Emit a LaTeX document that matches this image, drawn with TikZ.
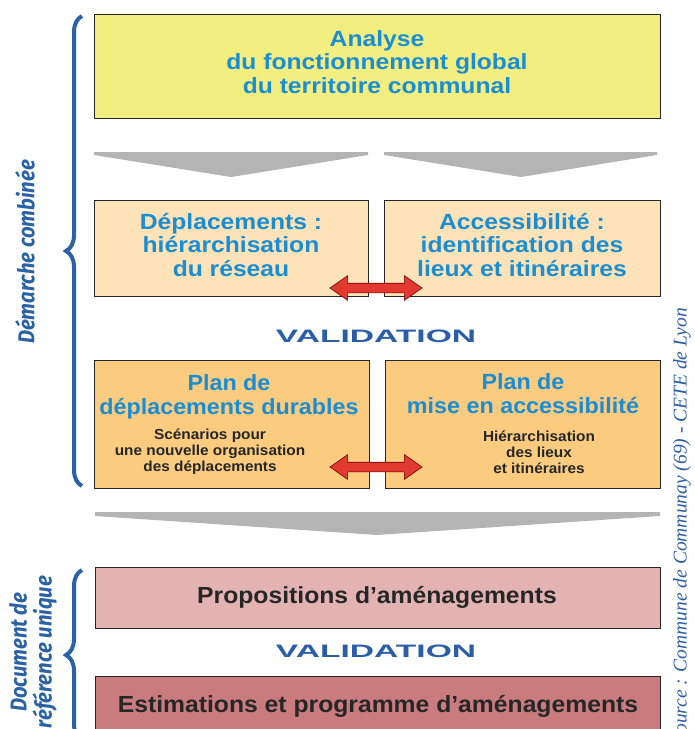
\documentclass[tikz,border=0pt]{standalone}
\usepackage{fontspec}
\setmainfont{Liberation Sans}
\newfontfamily\arialb{Liberation Sans}[FakeStretch=1.06]
\newfontfamily\arialw{Liberation Sans}[FakeStretch=1.12]
\newfontfamily\firacond{Fira Sans}[FakeStretch=0.88]
\newfontfamily\srcfont{Liberation Serif}
\usetikzlibrary{shapes.arrows,decorations.pathreplacing}
\definecolor{ytop}{HTML}{F2EE80}
\definecolor{peach}{HTML}{FDE3B7}
\definecolor{orng}{HTML}{FBCB80}
\definecolor{pinkA}{HTML}{E3B3B1}
\definecolor{pinkB}{HTML}{C97B7D}
\definecolor{tblue}{HTML}{1B8DD3}
\definecolor{vblue}{HTML}{2B5DA8}
\definecolor{bblue}{HTML}{2B62A6}
\definecolor{chev}{HTML}{B4B4B4}
\definecolor{redA}{HTML}{E23A30}
\begin{document}
\begin{tikzpicture}[x=1pt,y=-1pt,
  box/.style={draw=black!85, line width=1.2pt, inner sep=0pt, anchor=north west},
  ttl/.style={font=\arialw\bfseries\fontsize{22}{23.5}\selectfont, text=tblue, align=center, inner sep=0pt},
  ttlb/.style={font=\arialb\bfseries\fontsize{22}{24}\selectfont, text=tblue, align=center, inner sep=0pt},
  sub/.style={font=\arialb\bfseries\fontsize{14.5}{16}\selectfont, text=black!85, align=center, inner sep=0pt},
  dark/.style={font=\arialb\bfseries\fontsize{23.3}{26}\selectfont, text=black!85, inner sep=0pt},
  valid/.style={font=\arialb\bfseries\fontsize{18}{20}\selectfont, text=vblue, inner sep=0pt},
  dbl/.style={double arrow, fill=redA, draw=red!45!black, line width=0.6pt,
    minimum height=92pt, minimum width=24pt, inner sep=4.5pt,
    double arrow head extend=7.5pt, double arrow tip angle=70},
  side/.style={rotate=90, font=\firacond\bfseries\itshape\fontsize{23}{25}\selectfont, text=bblue, align=center, inner sep=0pt},
  brc/.style={draw=bblue, line width=4pt, decorate, decoration={brace, amplitude=16pt}},
  chevron/.style={fill=chev}]
\useasboundingbox (0,0) rectangle (695,729);
\clip (0,0) rectangle (695,729);
% boxes
\node[box, fill=ytop, minimum width=566pt, minimum height=104pt] (ana) at (94,14) {};
\node[box, fill=peach, minimum width=274pt, minimum height=96pt] (dep) at (94,200) {};
\node[box, fill=peach, minimum width=276pt, minimum height=96pt] (acc) at (384,200) {};
\node[box, fill=orng, minimum width=275pt, minimum height=128pt] (pdd) at (94,360) {};
\node[box, fill=orng, minimum width=275pt, minimum height=128pt] (pma) at (385,360) {};
\node[box, fill=pinkA, minimum width=565pt, minimum height=61pt] (prop) at (95,567) {};
\node[box, fill=pinkB, minimum width=565pt, minimum height=70pt] (est) at (95,676) {};
% chevrons
\fill[chevron] (94,152) -- (368,152) -- (368,155) -- (231,177) -- (94,155) -- cycle;
\fill[chevron] (384,152) -- (657,152) -- (657,155) -- (521,177) -- (384,155) -- cycle;
\fill[chevron] (95,512) -- (660,512) -- (660,516) -- (377,535) -- (95,516) -- cycle;
% texts
\node[ttl] (tana) at (377,62) {Analyse\\du fonctionnement global\\du territoire communal};
\node[ttl] (tdep) at (231,245) {Déplacements :\\hiérarchisation\\du réseau};
\node[ttl] (tacc) at (522,245) {Accessibilité :\\identification des\\lieux et itinéraires};
\node[ttlb] (tpdd) at (229,397) {Plan de\\déplacements durables};
\node[ttlb] (tpma) at (523,394) {Plan de\\mise en accessibilité};
\node[sub] (spdd) at (210,452) {Scénarios pour\\une nouvelle organisation\\des déplacements};
\node[sub] (spma) at (539,452) {Hiérarchisation\\des lieux\\et itinéraires};
\node[valid] (v1) at (376,336) {\scalebox{1.76}[1]{VALIDATION}};
\node[valid] (v2) at (376,651) {\scalebox{1.76}[1]{VALIDATION}};
\node[dark] (tprop) at (377,597) {Propositions d’aménagements};
\node[dark] (test) at (378,706) {Estimations et programme d’aménagements};
% red arrows
\node[dbl] (ar1) at (376,288) {};
\node[dbl] (ar2) at (376,467) {};
% braces
\draw[brc] (82,486) -- (82,16);
\draw[brc] (82,740) -- (82,570);
\node[side] (dc) at (25,252) {Démarche combinée};
\node[side] (doc) at (33,652) {Document de\\référence unique};
\node[rotate=90, anchor=east, font=\srcfont\itshape\fontsize{19.5}{22}\selectfont, text=vblue, inner sep=0pt] (src) at (682,308) {Source : Commune de Communay (69) - CETE de Lyon};
\end{tikzpicture}
\end{document}
